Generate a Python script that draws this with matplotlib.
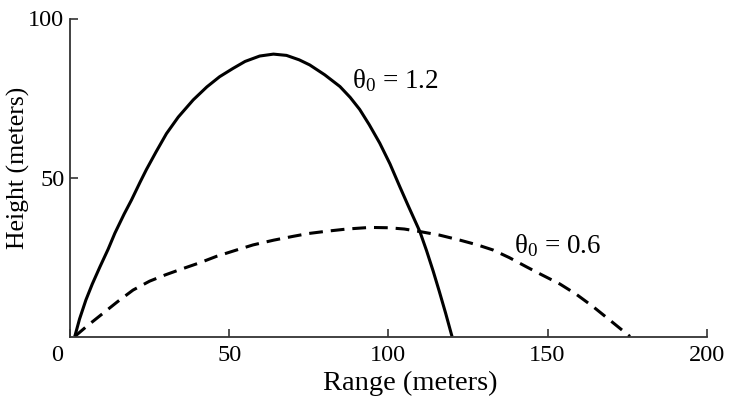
import matplotlib
matplotlib.use('Agg')
import matplotlib.pyplot as plt

# trajectories (range, height in meters)
x_12 = [1.5, 3, 5, 7, 9.4, 12, 14.1, 17, 19.3, 22, 24, 27, 30.3, 34, 38.7, 43, 47, 51.2,
        55, 59.6, 63.9, 68, 72, 75.3, 80, 84.8, 88, 91, 94, 97.3, 100.5, 103.6, 106.2,
        109.9, 112, 114.1, 116, 118, 120]
y_12 = [0, 5.5, 11.5, 16.5, 21.9, 27.5, 32.5, 38.5, 42.9, 48.5, 52.5, 58, 63.8, 69, 74.4,
        78.5, 81.7, 84.3, 86.5, 88.2, 88.8, 88.4, 87, 85.4, 82.3, 78.6, 75.2, 71.4, 66.6,
        60.8, 54.3, 47.1, 41.2, 33, 27, 20.5, 14.2, 7.3, 0]

x_06 = [1.5, 5, 10, 15, 19.8, 25, 30, 35, 40.8, 46, 52, 57.5, 64, 70.1, 75, 80.6, 87,
        94.2, 100, 105, 109.9, 116, 122.5, 128, 132.9, 138, 143.4, 148, 153.9, 159,
        164.3, 170, 175.9]
y_06 = [0, 3, 7, 11, 14.6, 17.4, 19.4, 21.2, 23.2, 25.2, 27.1, 28.8, 30.3, 31.5, 32.4,
        33.1, 33.8, 34.3, 34.2, 33.8, 33, 31.9, 30.3, 28.8, 27.2, 24.8, 21.9, 19.5, 16.5,
        13.3, 9.4, 4.8, 0]

xticks = [0, 50, 100, 150, 200]
xticklabels = ['', '50', '100', '150', '200']
yticks = [50, 100]
yticklabels = ['50', '100']

plt.rcParams['font.family'] = ['Liberation Serif', 'DejaVu Serif']
plt.rcParams['mathtext.fontset'] = 'stix'

fig = plt.figure(figsize=(7.29, 4.01), dpi=100)
ax = fig.add_axes([70 / 729, 1 - 336.5 / 401, 636.7 / 729, 318 / 401])

ax.plot(x_12, y_12, color='black', lw=2.2, solid_capstyle='butt')
ax.plot(x_06, y_06, color='black', lw=2.2, ls=(0, (4.5, 2.6)))

ax.set_xlim(0, 200)
ax.set_ylim(0, 100)
ax.spines['top'].set_visible(False)
ax.spines['right'].set_visible(False)
for s in ['left', 'bottom']:
    ax.spines[s].set_linewidth(1.3)
    ax.spines[s].set_color('#333333')

ax.set_xticks(xticks)
ax.set_xticklabels(xticklabels)
ax.set_yticks(yticks)
ax.set_yticklabels(yticklabels)
ax.tick_params(direction='in', length=6, width=1.2, color='#333333', labelsize=17.5)
ax.tick_params(axis='x', pad=6)
ax.tick_params(axis='y', pad=4)
ax.text(-4, -6, '0', fontsize=17.5, ha='center', va='center')

ax.text(88.5, 80.5, r'$\mathregular{\theta_0}$ = 1.2', fontsize=19.5, ha='left', va='center')
ax.text(139.5, 28.5, r'$\mathregular{\theta_0}$ = 0.6', fontsize=19.5, ha='left', va='center')

fig.text(410 / 729, 1 - 383 / 401, 'Range (meters)', fontsize=20.5, ha='center', va='center')
fig.text(18 / 729, 1 - 168 / 401, 'Height (meters)', fontsize=18.5, ha='center',
         va='center', rotation=90)

fig.savefig('out.png', dpi=100)
